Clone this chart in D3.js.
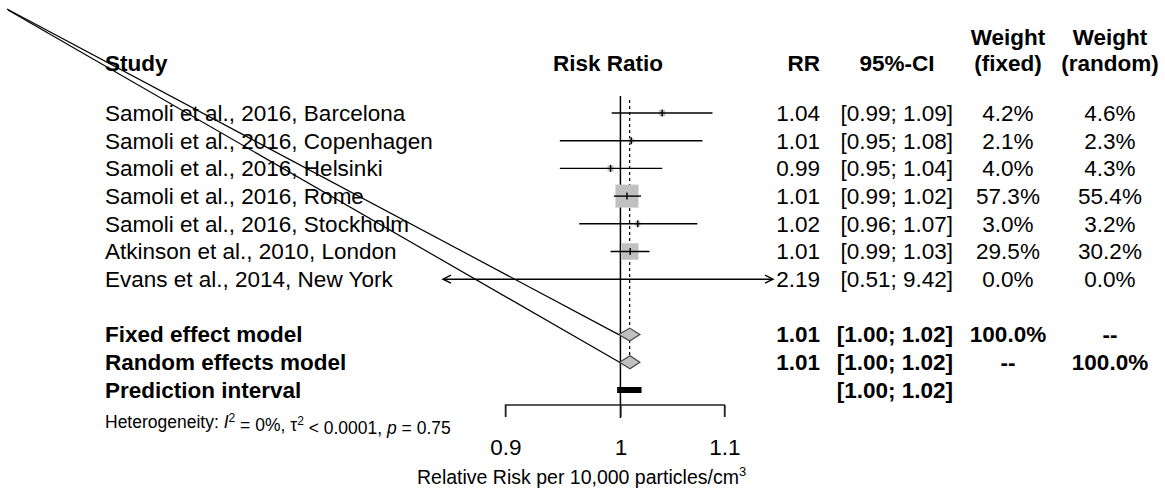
<!DOCTYPE html>
<html>
<head>
<meta charset="utf-8">
<script src="https://cdn.jsdelivr.net/npm/d3@7"></script>
<style>
  html, body { margin: 0; padding: 0; background: #fff; }
  svg { display: block; font-family: "Liberation Sans", Arial, sans-serif; }
</style>
</head>
<body>
<svg id="chart" width="1165" height="493"></svg>
<script>
// Study-level estimates (risk ratio with 95% CI) and weights
const studies = [
  "Samoli et al., 2016, Barcelona",
  "Samoli et al., 2016, Copenhagen",
  "Samoli et al., 2016, Helsinki",
  "Samoli et al., 2016, Rome",
  "Samoli et al., 2016, Stockholm",
  "Atkinson et al., 2010, London",
  "Evans et al., 2014, New York"
];
const rr      = [1.039, 1.010, 0.991, 1.006, 1.016, 1.009, 2.19];
const lower   = [0.992, 0.946, 0.946, 0.994, 0.963, 0.991, 0.51];
const upper   = [1.088, 1.078, 1.039, 1.019, 1.073, 1.027, 9.42];
const wFixed  = [4.2, 2.1, 4.0, 57.3, 3.0, 29.5, 0.0];
const wRandom = [4.6, 2.3, 4.3, 55.4, 3.2, 30.2, 0.0];

// Pooled estimates
const summaryLabels = ["Fixed effect model", "Random effects model"];
const summaryRR     = [1.0085, 1.0088];
const summaryLower  = [0.9985, 0.9992];
const summaryUpper  = [1.0180, 1.0180];
const summaryWFixed  = ["100.0%", "--"];
const summaryWRandom = ["--", "100.0%"];
const predLabel = "Prediction interval";
const predInterval = [0.9970, 1.0195];

// Axis
const xDomain = [0.85, 1.15];
const xTicks = [0.9, 1, 1.1];
const xTickLabels = ["0.9", "1", "1.1"];

const svg = d3.select("#chart");
const fmt = d3.format(".2f");
const pct = d3.format(".1f");

const x = d3.scaleLog().domain(xDomain).range([443, 773]);
// row index -> vertical centre
const y = d3.scaleLinear().domain([0, 1]).range([113, 140.7]);

const FS = 22.5;
const black = "#000";
const plotMid = (x.range()[0] + x.range()[1]) / 2;

// column anchors
const colStudy = 105, colRR = 820, colCI = 953, colWF = 1008, colWR = 1110;
const headY = 63, head2Y = 37;

// ---- header ----
const header = svg.append("g").attr("font-weight", "bold").attr("font-size", FS);
header.append("text").attr("x", colStudy).attr("y", headY).attr("dy", "0.35em").text("Study");
header.append("text").attr("x", plotMid).attr("y", headY).attr("dy", "0.35em")
  .attr("text-anchor", "middle").text("Risk Ratio");
header.append("text").attr("x", colRR).attr("y", headY).attr("dy", "0.35em").attr("text-anchor", "end").text("RR");
header.append("text").attr("x", 897).attr("y", headY).attr("dy", "0.35em").attr("text-anchor", "middle").text("95%-CI");
header.append("text").attr("x", colWF).attr("y", head2Y).attr("dy", "0.35em").attr("text-anchor", "middle").text("Weight");
header.append("text").attr("x", colWF).attr("y", headY).attr("dy", "0.35em").attr("text-anchor", "middle").text("(fixed)");
header.append("text").attr("x", colWR).attr("y", head2Y).attr("dy", "0.35em").attr("text-anchor", "middle").text("Weight");
header.append("text").attr("x", colWR).attr("y", headY).attr("dy", "0.35em").attr("text-anchor", "middle").text("(random)");

// ---- reference lines ----
const sumRows = [8, 9];
svg.append("line")
  .attr("x1", x(1)).attr("x2", x(1))
  .attr("y1", 96).attr("y2", 418)
  .attr("stroke", black).attr("stroke-width", 1.5);

svg.append("line")
  .attr("x1", x(summaryRR[0])).attr("x2", x(summaryRR[0]))
  .attr("y1", 100).attr("y2", y(sumRows[1]) - 6)
  .attr("stroke", black).attr("stroke-width", 1.2)
  .attr("stroke-dasharray", "3,3");

// ---- study rows ----
const maxW = d3.max(wFixed);
const boxSize = d3.scaleSqrt().domain([0, maxW]).range([0, 23]);
const [xmin, xmax] = xDomain;

const rows = svg.append("g");
studies.forEach((s, i) => {
  const cy = y(i);
  const g = rows.append("g");
  g.append("text").attr("x", colStudy).attr("y", cy).attr("dy", "0.35em").attr("font-size", FS).text(s);

  const lo = Math.max(lower[i], xmin), hi = Math.min(upper[i], xmax);
  if (rr[i] >= xmin && rr[i] <= xmax) {
    const b = Math.max(boxSize(wFixed[i]), 5);
    g.append("rect").attr("x", x(rr[i]) - b / 2).attr("y", cy - b / 2)
      .attr("width", b).attr("height", b).attr("fill", "#c0c0c0");
  }
  g.append("line").attr("x1", x(lo)).attr("x2", x(hi)).attr("y1", cy).attr("y2", cy)
    .attr("stroke", black).attr("stroke-width", 1.4);

  // open arrowheads where the interval runs past the plotting range
  const ah = 8, aw = 4;
  if (lower[i] < xmin) {
    g.append("path").attr("d", `M${x(lo) + ah},${cy - aw}L${x(lo)},${cy}L${x(lo) + ah},${cy + aw}`)
      .attr("fill", "none").attr("stroke", black).attr("stroke-width", 1.4);
  }
  if (upper[i] > xmax) {
    g.append("path").attr("d", `M${x(hi) - ah},${cy - aw}L${x(hi)},${cy}L${x(hi) - ah},${cy + aw}`)
      .attr("fill", "none").attr("stroke", black).attr("stroke-width", 1.4);
  }
  if (rr[i] >= xmin && rr[i] <= xmax) {
    g.append("line").attr("x1", x(rr[i])).attr("x2", x(rr[i])).attr("y1", cy - 3.5).attr("y2", cy + 3.5)
      .attr("stroke", black).attr("stroke-width", 1.4);
  }

  g.append("text").attr("x", colRR).attr("y", cy).attr("dy", "0.35em").attr("font-size", FS)
    .attr("text-anchor", "end").text(fmt(rr[i]));
  g.append("text").attr("x", colCI).attr("y", cy).attr("dy", "0.35em").attr("font-size", FS)
    .attr("text-anchor", "end").text(`[${fmt(lower[i])}; ${fmt(upper[i])}]`);
  g.append("text").attr("x", colWF).attr("y", cy).attr("dy", "0.35em").attr("font-size", FS)
    .attr("text-anchor", "middle").text(pct(wFixed[i]) + "%");
  g.append("text").attr("x", colWR).attr("y", cy).attr("dy", "0.35em").attr("font-size", FS)
    .attr("text-anchor", "middle").text(pct(wRandom[i]) + "%");
});

// ---- pooled rows ----
summaryLabels.forEach((lab, j) => {
  const cy = y(sumRows[j]);
  const g = svg.append("g").attr("font-size", FS).attr("font-weight", "bold");
  g.append("text").attr("x", colStudy).attr("y", cy).attr("dy", "0.35em").text(lab);
  const h = 6.5;
  g.append("path")
    .attr("d", `M${x(summaryLower[j])},${cy}L${x(summaryRR[j])},${cy - h}L${x(summaryUpper[j])},${cy}L${x(summaryRR[j])},${cy + h}Z`)
    .attr("fill", "#c0c0c0").attr("stroke", "#444").attr("stroke-width", 1.2);
  g.append("text").attr("x", colRR).attr("y", cy).attr("dy", "0.35em")
    .attr("text-anchor", "end").text(fmt(summaryRR[j]));
  g.append("text").attr("x", colCI).attr("y", cy).attr("dy", "0.35em")
    .attr("text-anchor", "end").text(`[${fmt(summaryLower[j])}; ${fmt(summaryUpper[j])}]`);
  g.append("text").attr("x", colWF).attr("y", cy).attr("dy", "0.35em")
    .attr("text-anchor", "middle").text(summaryWFixed[j]);
  g.append("text").attr("x", colWR).attr("y", cy).attr("dy", "0.35em")
    .attr("text-anchor", "middle").text(summaryWRandom[j]);
});

// prediction interval
{
  const cy = y(10);
  const g = svg.append("g").attr("font-size", FS).attr("font-weight", "bold");
  g.append("text").attr("x", colStudy).attr("y", cy).attr("dy", "0.35em").text(predLabel);
  g.append("rect").attr("x", x(predInterval[0])).attr("y", cy - 3)
    .attr("width", x(predInterval[1]) - x(predInterval[0])).attr("height", 6).attr("fill", black);
  g.append("text").attr("x", colCI).attr("y", cy).attr("dy", "0.35em")
    .attr("text-anchor", "end").text(`[${fmt(predInterval[0])}; ${fmt(predInterval[1])}]`);
}

// heterogeneity statistics
{
  const t = svg.append("text").attr("x", colStudy).attr("y", 422).attr("dy", "0.35em").attr("font-size", 17.5);
  t.append("tspan").text("Heterogeneity: ");
  t.append("tspan").attr("font-style", "italic").text("I");
  t.append("tspan").attr("dy", "-0.55em").attr("font-size", 12).text("2");
  t.append("tspan").attr("dy", "0.55em").text(" = 0%, \u03c4");
  t.append("tspan").attr("dy", "-0.55em").attr("font-size", 12).text("2");
  t.append("tspan").attr("dy", "0.55em").text(" < 0.0001, ");
  t.append("tspan").attr("font-style", "italic").text("p");
  t.append("tspan").text(" = 0.75");
}

// ---- lines from the upper-left corner to the pooled diamonds ----
[[7, 9], [8, 10]].forEach(([sx, sy], j) => {
  svg.append("line")
    .attr("x1", sx).attr("y1", sy)
    .attr("x2", x(summaryLower[j])).attr("y2", y(sumRows[j]))
    .attr("stroke", black).attr("stroke-width", 1.2);
});

// ---- x axis ----
const axisY = 405;
const axis = d3.axisBottom(x).tickValues(xTicks).tickFormat((d, i) => xTickLabels[i])
  .tickSize(12).tickPadding(22);
const ag = svg.append("g").attr("transform", `translate(0,${axisY})`).call(axis);
ag.select(".domain").attr("d", `M${x(xTicks[0])},12V0H${x(xTicks[xTicks.length - 1])}V12`)
  .attr("stroke", "#222").attr("stroke-width", 1.3);
ag.selectAll(".tick line").attr("stroke", "#222").attr("stroke-width", 1.3);
ag.selectAll(".tick text").attr("font-size", FS).attr("font-family", "Liberation Sans, Arial, sans-serif")
  .attr("fill", black);

const title = svg.append("text").attr("x", 417).attr("y", 484).attr("font-size", 19.5);
title.append("tspan").text("Relative Risk per 10,000 particles/cm");
title.append("tspan").attr("dy", "-0.6em").attr("font-size", 13).text("3");
</script>
</body>
</html>
